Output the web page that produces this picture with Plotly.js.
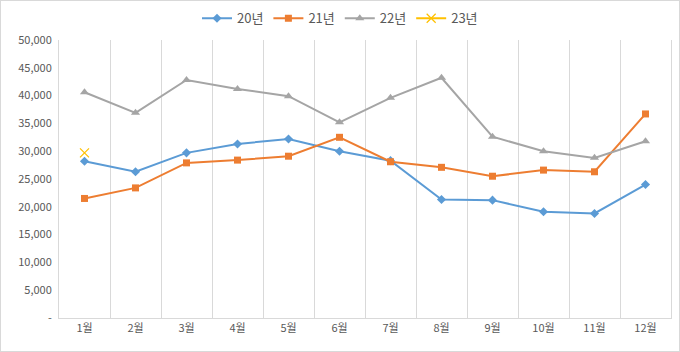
<!DOCTYPE html>
<html><head><meta charset="utf-8">
<script src="https://cdn.plot.ly/plotly-3.0.1.min.js"></script>
<style>html,body{margin:0;padding:0;background:#fff}#c{width:678px;height:350px;border:1px solid #d9d9d9}</style>
</head><body><div id="c"></div>
<script>
const months = ['1월','2월','3월','4월','5월','6월','7월','8월','9월','10월','11월','12월'];
const y20 = [28200,26300,29700,31300,32200,30000,28300,21300,21200,19100,18800,24000];
const y21 = [21500,23400,27900,28400,29100,32500,28100,27100,25500,26600,26300,36700];
const y22 = [40600,36900,42800,41200,39900,35200,39600,43200,32600,30000,28800,31800];
const y23 = [29700];
const yTicks = [0,5000,10000,15000,20000,25000,30000,35000,40000,45000,50000];
const yTickText = ['-','5,000','10,000','15,000','20,000','25,000','30,000','35,000','40,000','45,000','50,000'];

const traces = [
 {name:'20년', x:months, y:y20, mode:'lines+markers', line:{color:'#5B9BD5',width:2}, marker:{symbol:'diamond',size:7,color:'#5B9BD5'}},
 {name:'21년', x:months, y:y21, mode:'lines+markers', line:{color:'#ED7D31',width:2}, marker:{symbol:'square',size:7,color:'#ED7D31'}},
 {name:'22년', x:months, y:y22, mode:'lines+markers', line:{color:'#A5A5A5',width:2}, marker:{symbol:'triangle-up',size:8,color:'#A5A5A5'}},
 {name:'23년', x:months.slice(0,y23.length), y:y23, mode:'lines+markers', line:{color:'#FFC000',width:2}, marker:{symbol:'x-thin-open',size:9,color:'#FFC000',line:{color:'#FFC000',width:1.2}}}
];
const layout = {
 width:678, height:350,
 margin:{l:58,r:8,t:39,b:33,autoexpand:false},
 paper_bgcolor:'#fff', plot_bgcolor:'#fff',
 font:{family:'"Noto Sans CJK KR", "Noto Sans", sans-serif', color:'#595959', size:11},
 showlegend:true,
 legend:{orientation:'h', xref:'container', x:0.5, xanchor:'center', y:1.078, yanchor:'middle', font:{size:13,color:'#595959'}, tracegroupgap:0},
 xaxis:{type:'category', range:[-0.5,11.5], tickson:'boundaries', showgrid:true, gridcolor:'#d9d9d9', gridwidth:1,
   showline:true, linecolor:'#d9d9d9', ticks:'', tickfont:{size:11,color:'#595959'}, fixedrange:true, zeroline:false},
 yaxis:{range:[0,50000], tickvals:yTicks, ticktext:yTickText, showgrid:false, zeroline:false, showline:true, mirror:true, linecolor:'#d9d9d9',
   ticks:'', tickfont:{size:11,color:'#595959'}, ticklabelstandoff:4}
};
Plotly.newPlot('c', traces, layout, {displayModeBar:false, staticPlot:true});
</script></body></html>
